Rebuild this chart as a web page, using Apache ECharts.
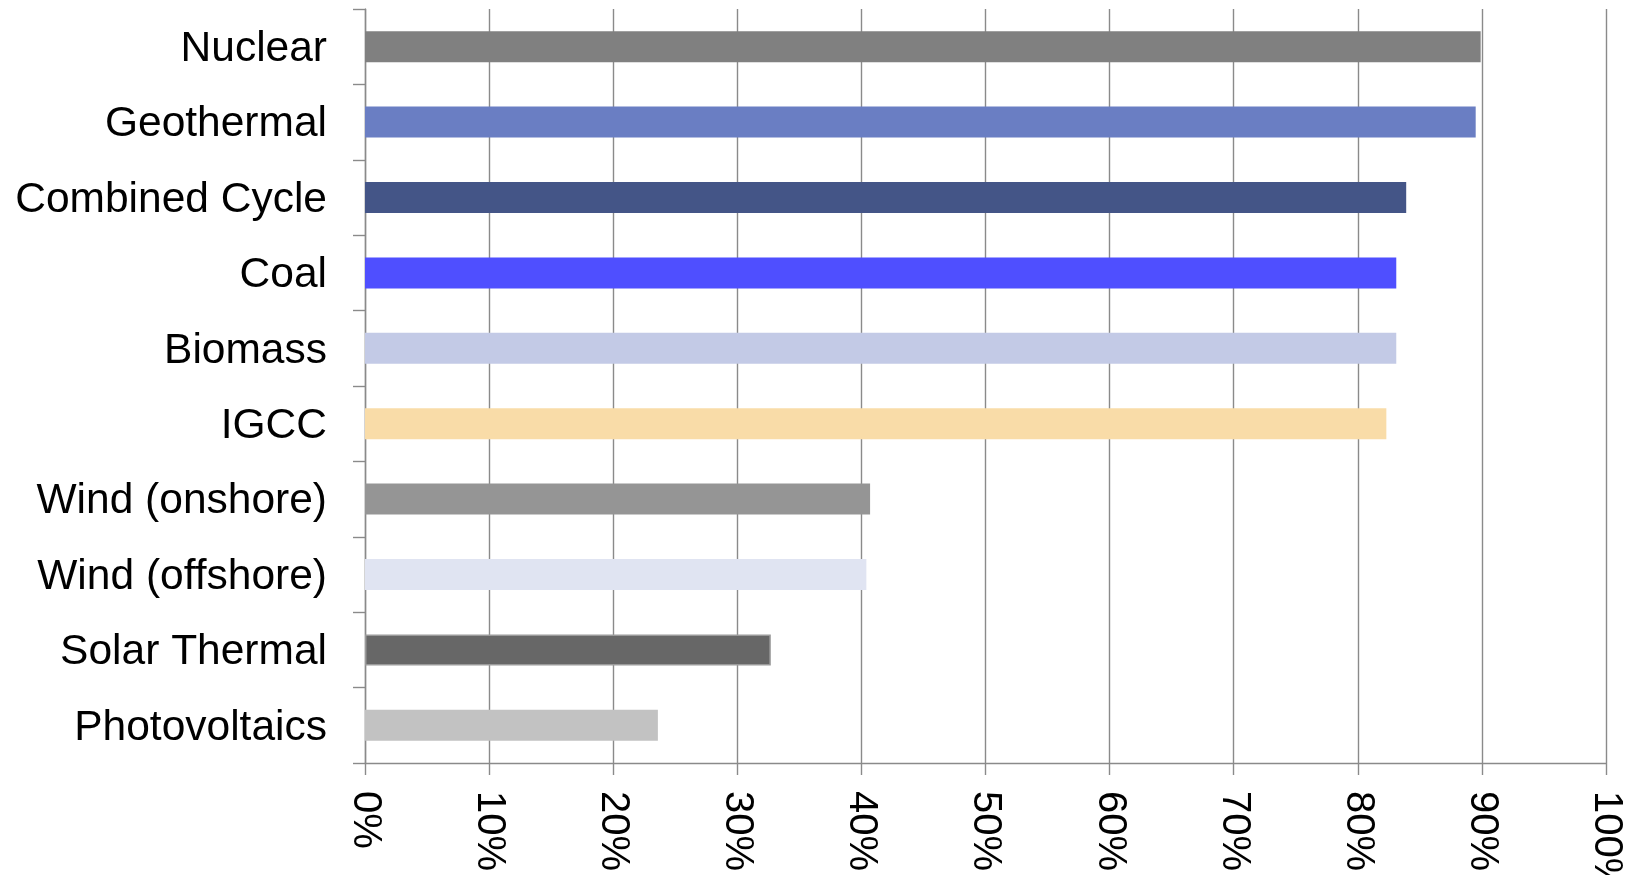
<!DOCTYPE html>
<html>
<head>
<meta charset="utf-8">
<title>Capacity factor by generation technology</title>
<script src="https://cdn.jsdelivr.net/npm/echarts@6/dist/echarts.min.js"></script>
<style>
  html, body { margin: 0; padding: 0; background: #ffffff; }
  #chart { width: 1643px; height: 875px; }
</style>
</head>
<body>
<div id="chart"></div>
<script>
// Generation technologies, listed top to bottom
const technologies = [
  'Nuclear',
  'Geothermal',
  'Combined Cycle',
  'Coal',
  'Biomass',
  'IGCC',
  'Wind (onshore)',
  'Wind (offshore)',
  'Solar Thermal',
  'Photovoltaics'
];

// Capacity factor, percent
const capacityFactor = [89.9, 89.5, 83.9, 83.1, 83.1, 82.3, 40.7, 40.4, 32.7, 23.6];

// Percent axis range and step
const axisMin = 0;
const axisMax = 100;
const axisStep = 10;

// One fill per technology
const barColors = [
  '#808080', '#6a7ec3', '#445587', '#4f4fff', '#c3cae6',
  '#f9dca8', '#959595', '#e0e4f2', '#676767', '#c2c2c2'
];

const gridGray = '#8a8a8a';
const fontFamily = '"Liberation Sans", Arial, Helvetica, sans-serif';

const barData = capacityFactor.map((v, i) => {
  const item = { value: v, itemStyle: { color: barColors[i] } };
  if (technologies[i] === 'Solar Thermal') {
    item.itemStyle.borderColor = '#9a9a9a';
    item.itemStyle.borderWidth = 1.5;
  }
  return item;
});

const chart = echarts.init(document.getElementById('chart'), null, { renderer: 'canvas' });

chart.setOption({
  animation: false,
  backgroundColor: '#ffffff',
  grid: {
    left: 365, right: 37, top: 9, bottom: 112,
    containLabel: false,
    outerBoundsMode: 'none'
  },
  xAxis: {
    type: 'value',
    min: axisMin,
    max: axisMax,
    interval: axisStep,
    axisLine: { show: true, lineStyle: { color: gridGray, width: 1.4 } },
    axisTick: { show: true, length: 12, lineStyle: { color: gridGray, width: 1.4 } },
    splitLine: { show: true, lineStyle: { color: gridGray, width: 1.4 } },
    axisLabel: {
      rotate: -90,
      margin: 28,
      color: '#000000',
      fontFamily: fontFamily,
      fontSize: 40,
      formatter: '{value}%'
    }
  },
  yAxis: {
    type: 'category',
    data: technologies,
    inverse: true,
    boundaryGap: true,
    axisLine: { show: true, lineStyle: { color: gridGray, width: 1.4 } },
    axisTick: { show: true, length: 12, lineStyle: { color: gridGray, width: 1.4 } },
    splitLine: { show: false },
    axisLabel: {
      margin: 38,
      color: '#000000',
      fontFamily: fontFamily,
      fontSize: 42.5,
      formatter: (name) => '{t|' + name + '}',
      rich: {
        t: {
          color: '#000000',
          fontFamily: fontFamily,
          fontSize: 42.5,
          padding: [5, 0, 0, 0]
        }
      }
    }
  },
  series: [{
    type: 'bar',
    barWidth: 31,
    data: barData
  }]
});
</script>
</body>
</html>
